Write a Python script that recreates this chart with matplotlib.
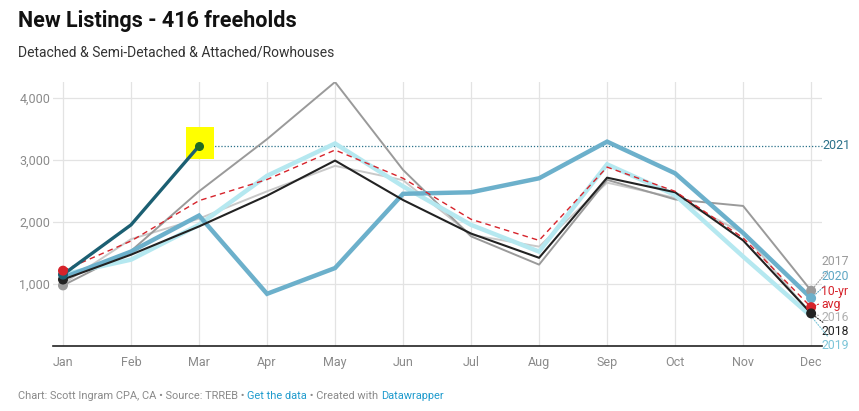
import matplotlib
matplotlib.use("Agg")
import matplotlib.pyplot as plt
from matplotlib.patches import Rectangle
from matplotlib.ticker import FuncFormatter

plt.rcParams["font.family"] = ["Roboto", "DejaVu Sans"]

months = ["Jan", "Feb", "Mar", "Apr", "May", "Jun", "Jul", "Aug", "Sep", "Oct", "Nov", "Dec"]

y2016 = [1000, 1720, 2050, 2490, 2900, 2670, 1790, 1600, 2630, 2385, 1820, 510]
y2017 = [975, 1530, 2490, 3330, 4250, 2835, 1765, 1310, 2675, 2360, 2255, 890]
y2018 = [1070, 1470, 1925, 2420, 2985, 2350, 1810, 1420, 2710, 2475, 1700, 525]
y2019 = [1150, 1390, 1950, 2740, 3260, 2570, 1950, 1520, 2925, 2430, 1440, 480]
y2020 = [1100, 1520, 2100, 840, 1255, 2450, 2475, 2700, 3290, 2780, 1820, 770]
y2021 = [1150, 1950, 3220]
avg10 = [1213, 1690, 2340, 2680, 3155, 2700, 2040, 1700, 2880, 2490, 1740, 625]

# label positions at right edge (data units)
label_y = {"2017": 1358, "2020": 1117, "10-yr\navg": 780, "2016": 455, "2018": 232, "2019": 10}

fig = plt.figure(figsize=(8.59, 4.11), dpi=100)
ax = fig.add_axes([53 / 859, 1 - 346 / 411, (822 - 53) / 859, (346 - 82) / 411])

x = list(range(len(months)))

ax.plot(x, y2016, color="#c9c9c9", lw=1.4, zorder=2)
ax.plot(x, y2017, color="#9a9a9a", lw=1.4, zorder=3)
ax.plot(x, y2019, color="#b5e8f0", lw=3.2, zorder=3, solid_joinstyle="miter")
ax.plot(x, y2020, color="#6cb0cb", lw=3.2, zorder=4, solid_joinstyle="miter")
ax.plot(x, y2018, color="#222222", lw=1.5, zorder=5)
ax.plot(x, avg10, color="#d6232b", lw=1.0, ls=(0, (4, 3)), zorder=6)

# yellow highlight behind the latest 2021 point
ax.add_patch(Rectangle((len(y2021) - 1 - 0.19, y2021[-1] - 210), 0.41, 520,
                       color="#ffff00", zorder=6.5, lw=0))
ax.plot(range(len(y2021)), y2021, color="#1b5f72", lw=2.4, zorder=7)
ax.plot([len(y2021) - 1, 11.16], [y2021[-1]] * 2, color="#2a7089", lw=0.9,
        ls=(0, (1, 1.5)), zorder=1, clip_on=False)
ax.scatter([len(y2021) - 1], [y2021[-1]], s=30, color="#1d6a22", zorder=8)

# end points
ax.scatter([0] * 4, [y2017[0], y2018[0], y2021[0], avg10[0]],
           color=["#9a9a9a", "#222222", "#1b5f72", "#d6232b"], s=38, zorder=9)
ax.scatter([11] * 4, [y2017[11], y2020[11], avg10[11], y2018[11]],
           color=["#9a9a9a", "#6cb0cb", "#d6232b", "#222222"], s=38, zorder=9)

# right-hand labels with leaders
series_end = {"2017": (y2017[11], "#9a9a9a"), "2020": (y2020[11], "#5fa7c4"),
              "10-yr\navg": (avg10[11], "#d6232b"), "2016": (y2016[11], "#b0b0b0"),
              "2018": (y2018[11], "#222222"), "2019": (y2019[11], "#7cc5d8")}
for name, (yv, col) in series_end.items():
    ax.annotate(name, xy=(11, yv), xytext=(11.15, label_y[name]), color=col,
                fontsize=8.8, va="center", ha="left", annotation_clip=False,
                linespacing=1.0,
                arrowprops=dict(arrowstyle="-", color=col, lw=0.8, ls=(0, (1, 1.5)),
                                shrinkA=0, shrinkB=2))
ax.text(11.17, y2021[-1], "2021", color="#2a7089", fontsize=9, va="center", ha="left")

ax.set_xlim(-0.147, 11.16)
ax.set_ylim(0, 4250)
ax.set_xticks(x)
ax.set_xticklabels(months)
ax.set_yticks([1000, 2000, 3000, 4000])
ax.yaxis.set_major_formatter(FuncFormatter(lambda v, p: f"{int(v):,}"))
ax.grid(True, color="#e3e3e3", lw=0.9, zorder=0)
ax.set_axisbelow(True)
for s in ["top", "right", "left"]:
    ax.spines[s].set_visible(False)
ax.spines["bottom"].set_color("#222222")
ax.spines["bottom"].set_linewidth(1.2)
ax.tick_params(axis="both", length=0, colors="#8a8a8a", labelsize=9)
ax.tick_params(axis="x", pad=7)
ax.tick_params(axis="y", pad=2)

fig.text(18 / 859, 1 - 21 / 411, "New Listings - 416 freeholds", fontsize=15.5,
         fontweight="bold", color="#111111", va="center")
fig.text(18 / 859, 1 - 52 / 411, "Detached & Semi-Detached & Attached/Rowhouses",
         fontsize=10, color="#333333", va="center")

# footer
parts = [("Chart: Scott Ingram CPA, CA \u2022 Source: TRREB \u2022 ", "#8a8a8a"),
         ("Get the data", "#1f9bcd"), (" \u2022 Created with ", "#8a8a8a"),
         ("Datawrapper", "#1f9bcd")]
fig.canvas.draw()
renderer = fig.canvas.get_renderer()
xpos = 18 / 859
for txt, col in parts:
    t = fig.text(xpos, 1 - 396 / 411, txt, fontsize=7.9, color=col, va="center")
    bb = t.get_window_extent(renderer=renderer)
    xpos += bb.width / fig.bbox.width

fig.savefig("out.png", dpi=100)
